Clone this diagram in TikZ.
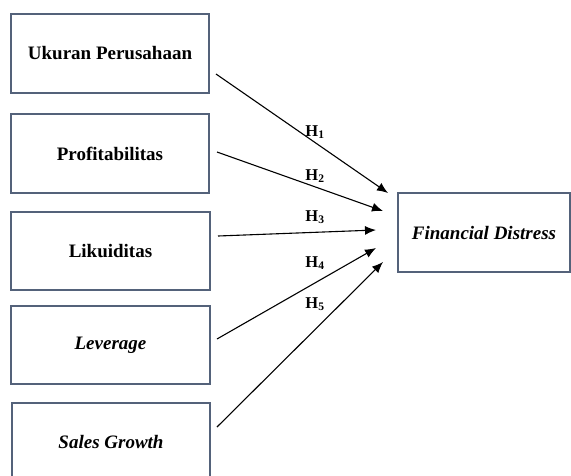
\documentclass[tikz,border=0pt]{standalone}
\usepackage{fontspec}
\setmainfont{Liberation Serif}
\usetikzlibrary{arrows.meta}
\definecolor{boxline}{RGB}{84,98,122}
\begin{document}
\begin{tikzpicture}[x=1pt,y=-1pt,
  varbox/.style={draw=boxline,line width=1.2pt,rectangle,inner sep=0pt,
    font=\fontsize{19}{22}\selectfont\bfseries},
  hyparrow/.style={draw=black,line width=1.1pt,-{Latex[length=11pt,width=9pt]}},
  hyplabel/.style={font=\fontsize{16.5}{18}\selectfont\bfseries,inner sep=0pt}]
\useasboundingbox (0,0) rectangle (571,475);
\clip (0,0) rectangle (571,475);
\node[varbox,minimum width=198pt,minimum height=79pt] (b1) at (110,53.5) {Ukuran Perusahaan};
\node[varbox,minimum width=198pt,minimum height=79pt] (b2) at (110,153.5) {Profitabilitas};
\node[varbox,minimum width=199pt,minimum height=78pt] (b3) at (110.5,251) {Likuiditas};
\node[varbox,minimum width=199pt,minimum height=78pt] (b4) at (110.5,345) {\itshape Leverage};
\node[varbox,minimum width=198pt,minimum height=78pt] (b5) at (111,442) {\itshape Sales Growth};
\node[varbox,minimum width=172pt,minimum height=79pt] (fd) at (484,232.5) {\itshape Financial Distress};
\coordinate (s1) at (216,74);
\coordinate (s2) at (217,152);
\coordinate (s3) at (218,236);
\coordinate (s4) at (217,339);
\coordinate (s5) at (217,427);
\coordinate (t1) at (388,193);
\coordinate (t2) at (383,211);
\coordinate (t3) at (376,230);
\coordinate (t4) at (376,248);
\coordinate (t5) at (383,262);
\draw[hyparrow] (s1) -- (t1);
\draw[hyparrow] (s2) -- (t2);
\draw[hyparrow] (s3) -- (t3);
\draw[hyparrow] (s4) -- (t4);
\draw[hyparrow] (s5) -- (t5);
\node[hyplabel] (h1) at (315,132) {H\textsubscript{1}};
\node[hyplabel] (h2) at (315,176) {H\textsubscript{2}};
\node[hyplabel] (h3) at (315,217) {H\textsubscript{3}};
\node[hyplabel] (h4) at (315,263) {H\textsubscript{4}};
\node[hyplabel] (h5) at (315,304) {H\textsubscript{5}};
\end{tikzpicture}
\end{document}
